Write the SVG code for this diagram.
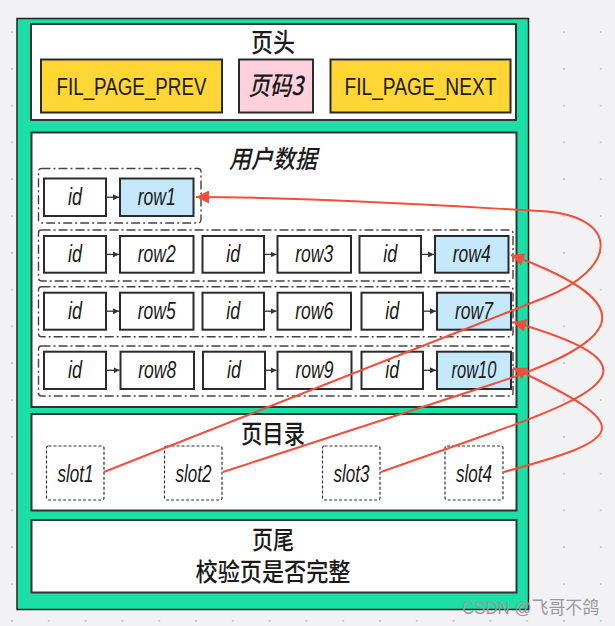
<svg xmlns="http://www.w3.org/2000/svg" width="615" height="626" viewBox="0 0 615 626">
<defs>
<pattern id="dots" x="11" y="31" width="36.8" height="36.8" patternUnits="userSpaceOnUse">
<rect x="0" y="0" width="2" height="2" fill="#cdcdd3"/>
</pattern>
<marker id="redArrow" viewBox="0 0 12 12" refX="12" refY="6" markerWidth="14" markerHeight="13" markerUnits="userSpaceOnUse" orient="auto">
<path d="M0,0 L12,6 L0,12 z" fill="#f24e3c"/>
</marker>
<marker id="smallArrow" viewBox="0 0 10 10" refX="10" refY="5" markerWidth="6" markerHeight="6" markerUnits="userSpaceOnUse" orient="auto">
<path d="M0,0 L10,5 L0,10 z" fill="#333"/>
</marker>
</defs>
<style>
.sec{fill:#fff;stroke:#333;stroke-width:2}
.box{fill:#fff;stroke:#2b2b2b;stroke-width:2}
.yel{fill:#ffd633;stroke:#2b2b2b;stroke-width:2}
.pink{fill:#ffd1dc;stroke:#2b2b2b;stroke-width:2}
.blue{fill:#c5e8fb;stroke:#2b2b2b;stroke-width:2}
.grp{fill:none;stroke:#444;stroke-width:1.4;stroke-dasharray:9 3 2 3}
.slot{fill:#fff;stroke:#333;stroke-width:1.2;stroke-dasharray:3 2}
.cn{font-family:"Noto Sans CJK SC","Noto Sans",sans-serif;font-weight:500;fill:#1a1a1a;text-anchor:middle}
.lt{font-family:"Liberation Sans",Arial,sans-serif;fill:#1a1a1a;text-anchor:middle}
.t{font-family:"Liberation Sans",Arial,sans-serif;font-style:italic;font-size:23px;fill:#1a1a1a;text-anchor:middle}
.it{font-style:italic}
.red{fill:none;stroke:#f24e3c;stroke-width:2;marker-end:url(#redArrow)}
.sm{stroke:#333;stroke-width:1.3;marker-end:url(#smallArrow)}
</style>
<rect x="0" y="0" width="615" height="626" fill="#f2f2f4"/>
<rect x="0" y="0" width="615" height="626" fill="url(#dots)"/>

<g id="page">
<rect x="17" y="18.5" width="511.5" height="591" fill="#1bdfa4" stroke="#222" stroke-width="1.5"/>
</g>

<g id="header">
<rect class="sec" x="31" y="24" width="485" height="96"/>
<text class="cn" x="273" y="52" font-size="26" textLength="44" lengthAdjust="spacingAndGlyphs">页头</text>
</g>
<g id="prev">
<rect class="yel" x="41" y="59.5" width="181" height="53"/>
<text class="lt" x="131.5" y="95" font-size="23" textLength="150" lengthAdjust="spacingAndGlyphs">FIL_PAGE_PREV</text>
</g>
<g id="pageno">
<rect class="pink" x="239" y="59.5" width="74" height="53"/>
<text class="cn it" x="276" y="95" font-size="26" textLength="55" lengthAdjust="spacingAndGlyphs">页码3</text>
</g>
<g id="next">
<rect class="yel" x="330.5" y="59.5" width="180" height="53"/>
<text class="lt" x="420.5" y="95" font-size="23" textLength="152" lengthAdjust="spacingAndGlyphs">FIL_PAGE_NEXT</text>
</g>

<g id="userdata">
<rect class="sec" x="31.5" y="132.5" width="485" height="274.5"/>
<text class="cn it" x="273" y="167.5" font-size="25" textLength="88" lengthAdjust="spacingAndGlyphs">用户数据</text>
</g>

<g id="group1">
<rect class="grp" x="38.5" y="168.5" width="162.5" height="54.5" rx="3"/>
</g>
<g id="id1"><rect class="box" x="44" y="178.5" width="62" height="37.5"/><text class="t" x="75" y="205" textLength="14" lengthAdjust="spacingAndGlyphs">id</text></g>
<g id="row1"><rect class="blue" x="120" y="178.5" width="73.5" height="37.5"/><text class="t" x="156.75" y="205" textLength="38" lengthAdjust="spacingAndGlyphs">row1</text></g>

<g id="group2">
<rect class="grp" x="38.5" y="230" width="474.5" height="51" rx="3"/>
</g>
<g id="id2"><rect class="box" x="44" y="236" width="62" height="36.7"/><text class="t" x="75" y="262" textLength="14" lengthAdjust="spacingAndGlyphs">id</text></g>
<g id="row2"><rect class="box" x="120" y="236" width="73.5" height="36.7"/><text class="t" x="156.75" y="262" textLength="38" lengthAdjust="spacingAndGlyphs">row2</text></g>
<g id="id3"><rect class="box" x="202.5" y="236" width="61.5" height="36.7"/><text class="t" x="233.25" y="262" textLength="14" lengthAdjust="spacingAndGlyphs">id</text></g>
<g id="row3"><rect class="box" x="277.5" y="236" width="73.5" height="36.7"/><text class="t" x="314.25" y="262" textLength="38" lengthAdjust="spacingAndGlyphs">row3</text></g>
<g id="id4"><rect class="box" x="359.5" y="236" width="61.5" height="36.7"/><text class="t" x="390.25" y="262" textLength="14" lengthAdjust="spacingAndGlyphs">id</text></g>
<g id="row4"><rect class="blue" x="435" y="236" width="73.5" height="36.7"/><text class="t" x="471.75" y="262" textLength="38" lengthAdjust="spacingAndGlyphs">row4</text></g>

<g id="group3">
<rect class="grp" x="38.5" y="286.7" width="474.5" height="50" rx="3"/>
</g>
<g id="id5"><rect class="box" x="44" y="292.7" width="62" height="37"/><text class="t" x="75" y="319" textLength="14" lengthAdjust="spacingAndGlyphs">id</text></g>
<g id="row5"><rect class="box" x="120" y="292.7" width="73.5" height="37"/><text class="t" x="156.75" y="319" textLength="38" lengthAdjust="spacingAndGlyphs">row5</text></g>
<g id="id6"><rect class="box" x="202.5" y="292.7" width="61.5" height="37"/><text class="t" x="233.25" y="319" textLength="14" lengthAdjust="spacingAndGlyphs">id</text></g>
<g id="row6"><rect class="box" x="277.5" y="292.7" width="73.5" height="37"/><text class="t" x="314.25" y="319" textLength="38" lengthAdjust="spacingAndGlyphs">row6</text></g>
<g id="id7"><rect class="box" x="361.5" y="292.7" width="61.5" height="37"/><text class="t" x="392.25" y="319" textLength="14" lengthAdjust="spacingAndGlyphs">id</text></g>
<g id="row7"><rect class="blue" x="437" y="292.7" width="74" height="37"/><text class="t" x="474" y="319" textLength="38" lengthAdjust="spacingAndGlyphs">row7</text></g>

<g id="group4">
<rect class="grp" x="38.5" y="346" width="474.5" height="50" rx="3"/>
</g>
<g id="id8"><rect class="box" x="44" y="351.7" width="62" height="37.3"/><text class="t" x="75" y="378" textLength="14" lengthAdjust="spacingAndGlyphs">id</text></g>
<g id="row8"><rect class="box" x="120.5" y="351.7" width="73.5" height="37.3"/><text class="t" x="157.25" y="378" textLength="38" lengthAdjust="spacingAndGlyphs">row8</text></g>
<g id="id9"><rect class="box" x="203" y="351.7" width="62" height="37.3"/><text class="t" x="234" y="378" textLength="14" lengthAdjust="spacingAndGlyphs">id</text></g>
<g id="row9"><rect class="box" x="277.5" y="351.7" width="74" height="37.3"/><text class="t" x="314.5" y="378" textLength="38" lengthAdjust="spacingAndGlyphs">row9</text></g>
<g id="id10"><rect class="box" x="361.5" y="351.7" width="61.5" height="37.3"/><text class="t" x="392.25" y="378" textLength="14" lengthAdjust="spacingAndGlyphs">id</text></g>
<g id="row10"><rect class="blue" x="437" y="351.7" width="74" height="37.3"/><text class="t" x="474" y="378" textLength="45" lengthAdjust="spacingAndGlyphs">row10</text></g>

<g id="directory">
<rect class="sec" x="31.5" y="414" width="485" height="96.5"/>
<text class="cn" x="273" y="442.5" font-size="25" textLength="64" lengthAdjust="spacingAndGlyphs">页目录</text>
</g>
<g id="slot1"><rect class="slot" x="46.5" y="446" width="57.5" height="54" rx="2"/><text class="t" x="75.5" y="481.5" textLength="36" lengthAdjust="spacingAndGlyphs">slot1</text></g>
<g id="slot2"><rect class="slot" x="164.5" y="446" width="57.5" height="54" rx="2"/><text class="t" x="193.5" y="481.5" textLength="36" lengthAdjust="spacingAndGlyphs">slot2</text></g>
<g id="slot3"><rect class="slot" x="322.5" y="446" width="57.5" height="54" rx="2"/><text class="t" x="351.5" y="481.5" textLength="36" lengthAdjust="spacingAndGlyphs">slot3</text></g>
<g id="slot4"><rect class="slot" x="445" y="446" width="58" height="54" rx="2"/><text class="t" x="474" y="481.5" textLength="36" lengthAdjust="spacingAndGlyphs">slot4</text></g>

<g id="footer">
<rect class="sec" x="31.5" y="520" width="485" height="72.5"/>
<text class="cn" x="273" y="548.5" font-size="25" textLength="42" lengthAdjust="spacingAndGlyphs">页尾</text>
<text class="cn" x="273" y="581" font-size="25" textLength="155" lengthAdjust="spacingAndGlyphs">校验页是否完整</text>
</g>

<g id="connectors">
<line class="sm" x1="106" y1="197.25" x2="119" y2="197.25"/>
<line class="sm" x1="106" y1="254.4" x2="119" y2="254.4"/>
<line class="sm" x1="264" y1="254.4" x2="276.5" y2="254.4"/>
<line class="sm" x1="421" y1="254.4" x2="434" y2="254.4"/>
<line class="sm" x1="106" y1="311.2" x2="119" y2="311.2"/>
<line class="sm" x1="264" y1="311.2" x2="276.5" y2="311.2"/>
<line class="sm" x1="423" y1="311.2" x2="436" y2="311.2"/>
<line class="sm" x1="106" y1="370.3" x2="119.5" y2="370.3"/>
<line class="sm" x1="265" y1="370.3" x2="276.5" y2="370.3"/>
<line class="sm" x1="423" y1="370.3" x2="436" y2="370.3"/>
<path class="red" d="M104,472 L545,297.5 C620,267.8 620,215 540,211 C480,208 320,197 196,197"/>
<path class="red" d="M223,472 L490,385 C620,342.8 650,306 511,255"/>
<path class="red" d="M381,472 L490,433.5 C620,387.6 652,362 513,322"/>
<path class="red" d="M504,472 C628,438 638,427 513,368"/>
</g>

<text x="530.5" y="614" font-family="'Liberation Sans','Noto Sans CJK SC',sans-serif" font-size="18" fill="#9a9a9a" text-anchor="middle" textLength="137" lengthAdjust="spacingAndGlyphs">CSDN @飞哥不鸽</text>
</svg>
